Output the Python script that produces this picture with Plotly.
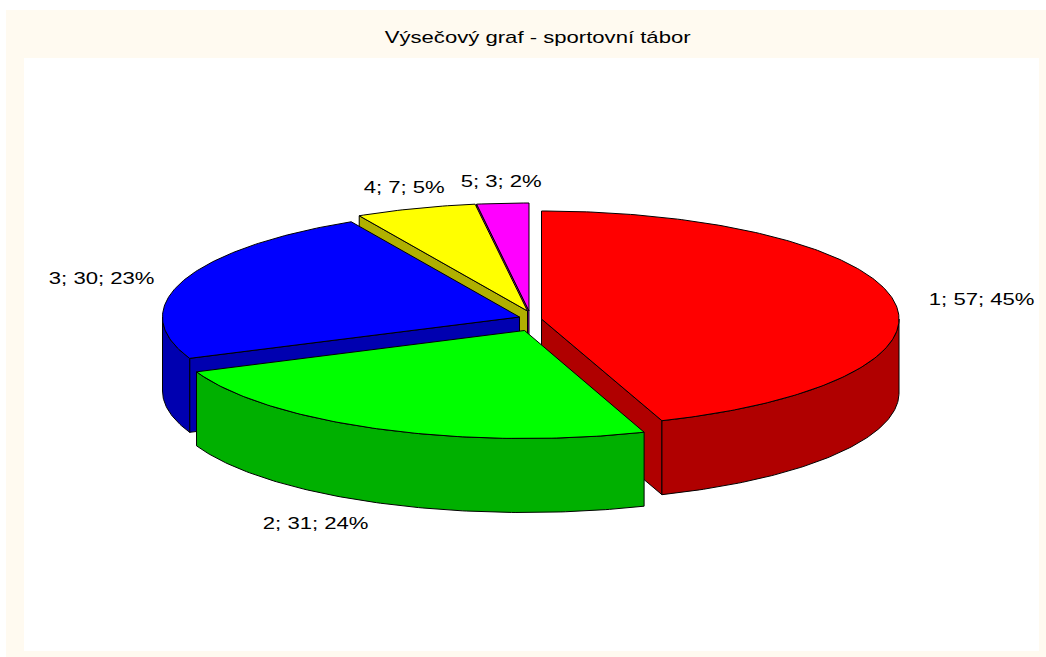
import numpy as np
import plotly.graph_objects as go

# Data
categories = ["1", "2", "3", "4", "5"]
values = [57, 31, 30, 7, 3]
percents = ["45%", "24%", "23%", "5%", "2%"]
title_text = "Výsečový graf - sportovní tábor"

# Styling and layout
top_colors = ["#FF0000", "#00FF00", "#0000FF", "#FFFF00", "#FF00FF"]
side_colors = ["#B00000", "#00B000", "#0000B0", "#B0B000", "#B000B0"]
apex_x = [541.5, 524.5, 519.5, 527.5, 529]
apex_y = [319, 330.5, 317, 311, 311]
radius_x = [357.5, 355, 357, 357, 357]
label_x = [981, 315, 101, 404, 500.5]
label_y = [299, 523, 278, 187, 181]
RY, DEPTH = 108, 74
LINE = "#000000"

total = sum(values)
edges = np.cumsum([0] + values) / total * 2 * np.pi


def rim(cx, cy, rx, a, b, drop=0.0):
    t = np.linspace(a, b, max(2, int(abs(b - a) * 80)))
    return cx + rx * np.sin(t), cy - RY * np.cos(t) + drop


def poly(fig, xs, ys, color):
    fig.add_trace(go.Scatter(
        x=list(xs) + [xs[0]], y=list(ys) + [ys[0]], mode="lines", fill="toself",
        fillcolor=color, line=dict(color=LINE, width=1), hoverinfo="skip", showlegend=False))


fig = go.Figure()
for i in [4, 3, 2, 0, 1]:  # back to front
    a, b = edges[i], edges[i + 1]
    cx, cy, rx = apex_x[i], apex_y[i], radius_x[i]
    side = side_colors[i]
    # radial face at start angle
    if a > np.pi:
        rx_, ry_ = cx + rx * np.sin(a), cy - RY * np.cos(a)
        poly(fig, [cx, rx_, rx_, cx], [cy, ry_, ry_ + DEPTH, cy + DEPTH], side)
    # radial face at end angle
    if b < np.pi:
        rx_, ry_ = cx + rx * np.sin(b), cy - RY * np.cos(b)
        poly(fig, [cx, rx_, rx_, cx], [cy, ry_, ry_ + DEPTH, cy + DEPTH], side)
    # outer wall (front half only)
    lo, hi = max(a, np.pi / 2), min(b, 3 * np.pi / 2)
    if hi > lo:
        x1, y1 = rim(cx, cy, rx, lo, hi)
        x2, y2 = rim(cx, cy, rx, lo, hi, DEPTH)
        poly(fig, np.r_[x1, x2[::-1]], np.r_[y1, y2[::-1]], side)
    # top
    x1, y1 = rim(cx, cy, rx, a, b)
    poly(fig, np.r_[cx, x1], np.r_[cy, y1], top_colors[i])

font = dict(family="Liberation Sans", size=17, color="#000000")
annotations = [dict(x=537.5, y=37, text=title_text, showarrow=False, xanchor="center", yanchor="middle", font=font)]
for c, v, p, lx, ly in zip(categories, values, percents, label_x, label_y):
    annotations.append(dict(x=lx, y=ly, text=f"{c}; {v}; {p}", showarrow=False,
                            xanchor="center", yanchor="middle", font=font))

shapes = [
    dict(type="rect", x0=6, x1=1046, y0=10, y1=657, fillcolor="#FFFAF0", line_width=0, layer="below"),
    dict(type="rect", x0=24, x1=1039, y0=58, y1=651, fillcolor="#FFFFFF", line_width=0, layer="below"),
]

fig.update_layout(
    width=1046, height=657, margin=dict(l=0, r=0, t=0, b=0),
    paper_bgcolor="#FFFFFF", plot_bgcolor="rgba(0,0,0,0)",
    xaxis=dict(range=[0, 1046], visible=False, fixedrange=True),
    yaxis=dict(range=[657, 0], visible=False, fixedrange=True),
    annotations=annotations, shapes=shapes, showlegend=False,
)
# The reference's text is horizontally stretched Arial: widen the real SVG text to match.
stretch_js = """
document.body.style.margin='0';
document.querySelectorAll('.annotation-text').forEach(function(el){
  var w = el.getComputedTextLength();
  el.setAttribute('textLength', (w*1.30).toFixed(1));
  el.setAttribute('lengthAdjust', 'spacingAndGlyphs');
});
"""
fig.write_html("out.html", config=dict(displayModeBar=False), post_script=stretch_js)
